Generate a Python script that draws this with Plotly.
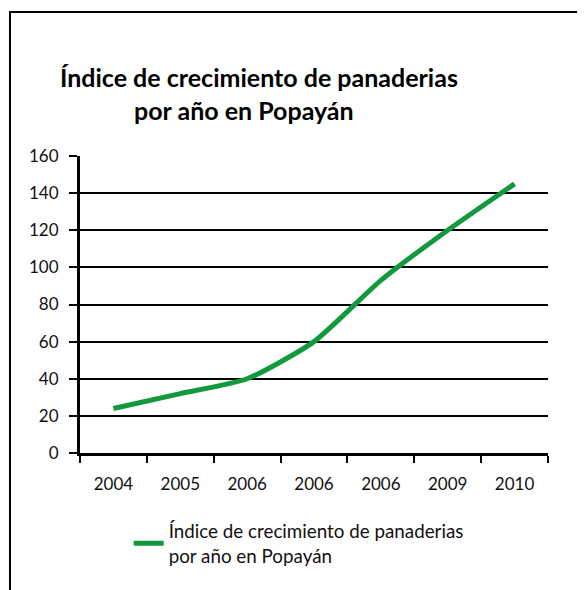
import plotly.graph_objects as go

years = ["2004", "2005", "2006", "2006", "2006", "2009", "2010"]
values = [24, 32, 40, 60, 93, 120, 145]
series_name = "Índice de crecimiento de panaderias<br>por año en Popayán"
title_line1 = "Índice de crecimiento de panaderias"
title_line2 = "por año en Popayán"
y_ticks = [0, 20, 40, 60, 80, 100, 120, 140, 160]

idx = list(range(len(years)))
FONT = "Lato"

fig = go.Figure()
fig.add_trace(go.Scatter(
    x=idx, y=values, mode="lines", name=series_name,
    line=dict(color="#12993E", width=5, shape="spline", smoothing=0.6),
))

fig.update_layout(
    width=585, height=590,
    margin=dict(l=72, r=45, t=148, b=145),
    paper_bgcolor="white", plot_bgcolor="white",
    font=dict(family=FONT, size=17, color="#111"),
    showlegend=True,
    legend=dict(x=0.104, xanchor="left", y=-0.2, yanchor="top",
                font=dict(family=FONT, size=18.8, color="#111"),
                itemwidth=30),
    xaxis=dict(
        range=[-0.5, len(years) - 0.5], tickvals=idx, ticktext=years,
        showgrid=False, ticks="", showline=True, linecolor="black", linewidth=3,
        tickfont=dict(family=FONT, size=17, color="#111"),
        minor=dict(tick0=-0.5, dtick=1, ticks="outside", ticklen=7,
                   tickwidth=2, tickcolor="black", showgrid=False),
        zeroline=False, fixedrange=True, ticklabelstandoff=14,
    ),
    yaxis=dict(
        range=[0, 160], tickvals=y_ticks, showgrid=True, gridcolor="black",
        gridwidth=2, ticks="outside", ticklen=8, tickwidth=2, tickcolor="black",
        showline=True, linecolor="black", linewidth=3, zeroline=False,
        tickfont=dict(family=FONT, size=17, color="#111"),
        ticklabelstandoff=7,
    ),
    annotations=[
        dict(text="<b>" + title_line1 + "</b>", xref="paper", yref="paper",
             x=0.3825, xanchor="center", y=1.266, yanchor="middle", showarrow=False,
             font=dict(family=FONT, size=25, color="black")),
        dict(text="<b>" + title_line2 + "</b>", xref="paper", yref="paper",
             x=0.350, xanchor="center", y=1.155, yanchor="middle", showarrow=False,
             font=dict(family=FONT, size=25, color="black")),
    ],
    shapes=[dict(type="rect", xref="paper", yref="paper",
                 x0=-0.1496, x1=1.3, y0=-1.0, y1=1.485,
                 line=dict(color="black", width=2))],
)

fig.write_html("out.html")
